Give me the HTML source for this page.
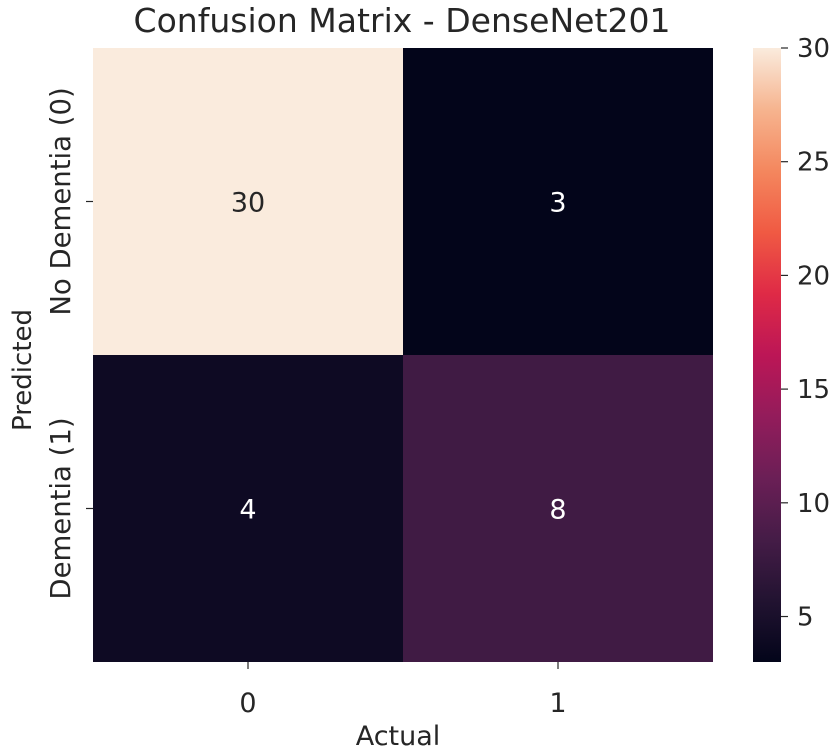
<!DOCTYPE html>
<html><head><meta charset="utf-8"><style>
html,body{margin:0;padding:0;background:#fff;}
svg{display:block;font-family:"DejaVu Sans","Liberation Sans",sans-serif;}
</style></head><body>
<svg id="chart" width="840" height="754" viewBox="0 0 840 754" xmlns="http://www.w3.org/2000/svg">
<defs>
<linearGradient id="rocket" x1="0" y1="1" x2="0" y2="0">
<stop offset="0" stop-color="#03051a"/>
<stop offset="0.1" stop-color="#221331"/>
<stop offset="0.2" stop-color="#451c47"/>
<stop offset="0.3" stop-color="#6b1f56"/>
<stop offset="0.4" stop-color="#931c5b"/>
<stop offset="0.5" stop-color="#bc1656"/>
<stop offset="0.6" stop-color="#df2a46"/>
<stop offset="0.7" stop-color="#f05a43"/>
<stop offset="0.8" stop-color="#f4875e"/>
<stop offset="0.9" stop-color="#f6b48f"/>
<stop offset="1" stop-color="#faebdd"/>
</linearGradient>
</defs>
<text x="402" y="32" text-anchor="middle" font-size="33" fill="#262626" textLength="537" lengthAdjust="spacingAndGlyphs">Confusion Matrix - DenseNet201</text>
<g id="cells"></g>
<rect x="753" y="48" width="28" height="614" fill="url(#rocket)"/>
<g id="cbticks"></g>
<g id="axes"></g>
<text x="398" y="745" text-anchor="middle" font-size="27" fill="#262626">Actual</text>
<text transform="translate(31,370) rotate(-90)" text-anchor="middle" font-size="26" fill="#262626">Predicted</text>
</svg>
<script>
const xLabels = ["0","1"];
const yLabels = ["No Dementia (0)","Dementia (1)"];
const values = [[30,3],[4,8]];
const cbTicks = [5,10,15,20,25,30];
const vmin = 3, vmax = 30;

const L=93,T=48,W=620,H=614;
const stops=[[0,"#03051a"],[0.1,"#221331"],[0.2,"#451c47"],[0.3,"#6b1f56"],[0.4,"#931c5b"],[0.5,"#bc1656"],[0.6,"#df2a46"],[0.7,"#f05a43"],[0.8,"#f4875e"],[0.9,"#f6b48f"],[1,"#faebdd"]];
function hex(c){return [1,3,5].map(i=>parseInt(c.substr(i,2),16));}
function cmap(v){let t=Math.max(0,Math.min(1,(v-vmin)/(vmax-vmin)));
for(let i=1;i<stops.length;i++){if(t<=stops[i][0]){const a=hex(stops[i-1][1]),b=hex(stops[i][1]);const f=(t-stops[i-1][0])/(stops[i][0]-stops[i-1][0]);return "rgb("+a.map((x,k)=>Math.round(x+(b[k]-x)*f)).join(",")+")";}}
return stops[stops.length-1][1];}
const nx=xLabels.length, ny=yLabels.length, cw=W/nx, ch=H/ny;
const xS=i=>L+i*cw, yS=j=>T+j*ch;
const cbY=v=>T+H-(v-vmin)/(vmax-vmin)*H;
const NS="http://www.w3.org/2000/svg";
function mk(tag,attrs,parent,txt){const e=document.createElementNS(NS,tag);for(const k in attrs)e.setAttribute(k,attrs[k]);if(txt!==undefined)e.textContent=txt;parent.appendChild(e);return e;}
const cells=document.getElementById("cells"), axes=document.getElementById("axes"), cbt=document.getElementById("cbticks");
for(let j=0;j<ny;j++)for(let i=0;i<nx;i++){
 const v=values[j][i];
 const r=mk("rect",{x:xS(i),y:yS(j),width:cw,height:ch,fill:cmap(v)},cells);
 
 
 const t=mk("text",{x:xS(i)+cw/2,y:yS(j)+ch/2+10,"text-anchor":"middle","font-size":27,fill:(v-vmin)/(vmax-vmin)>0.6?"#262626":"#ffffff"},cells,String(v));
 
 
}
xLabels.forEach((lb,i)=>{const cx=xS(i)+cw/2;
 const tk=mk("line",{x1:cx,x2:cx,y1:T+H,y2:T+H+7,stroke:"#262626","stroke-width":1.2},axes);
 
 
 const t=mk("text",{x:cx,y:T+H+50,"text-anchor":"middle","font-size":27,fill:"#262626"},axes,lb);
 
 
});
yLabels.forEach((lb,j)=>{const cy=yS(j)+ch/2;
 const tk=mk("line",{x1:L-7,x2:L,y1:cy,y2:cy,stroke:"#262626","stroke-width":1.2},axes);
 
 
 const t=mk("text",{transform:"translate(70,"+cy+") rotate(-90)","text-anchor":"middle","font-size":27.5,fill:"#262626"},axes,lb);
 
 
});
cbTicks.forEach(v=>{const y=cbY(v);
 const tk=mk("line",{x1:781,x2:788,y1:y,y2:y,stroke:"#262626","stroke-width":1.2},cbt);
 
 
 const t=mk("text",{x:797,y:y+9,"font-size":26,fill:"#262626"},cbt,String(v));
 
 
});
</script>
</body></html>
